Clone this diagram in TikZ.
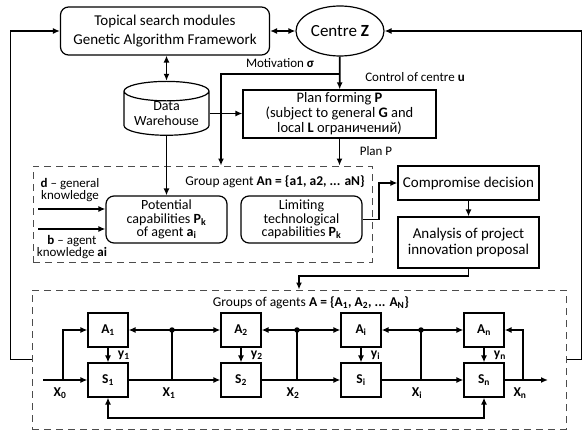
\documentclass[tikz,border=0pt]{standalone}
\usepackage{fontspec}
\setmainfont{Carlito}
\usetikzlibrary{arrows.meta,shapes.geometric}

\newcommand{\sub}[1]{\textsubscript{#1}}

\begin{document}
\begin{tikzpicture}[x=1pt,y=-1pt,>={Latex[length=7pt,width=6pt]}]
\tikzstyle{rbox}=[draw, rounded corners=8pt, line width=1.2pt, align=center, inner sep=0pt]
\tikzstyle{sbox}=[draw, line width=1.2pt, align=center, inner sep=0pt]
\tikzstyle{dashbox}=[draw, dash pattern=on 7pt off 5pt, line width=1pt, black!70, inner sep=0pt]
\tikzstyle{cell}=[sbox, minimum width=40pt, minimum height=34pt, font=\fontsize{13.5}{14}\selectfont\bfseries]
\tikzstyle{conn}=[line width=1.8pt]
\tikzstyle{lbl}=[font=\fontsize{13}{12}\selectfont, inner sep=1pt, align=center]
\tikzstyle{xlbl}=[lbl, font=\fontsize{13.5}{14}\selectfont\bfseries]
\tikzstyle{jdot}=[circle, fill, inner sep=0pt, minimum size=5.5pt]

\useasboundingbox (0,0) rectangle (583,433);

% upper part
\draw (165,31) node[rbox, minimum width=209pt, minimum height=48pt, font=\fontsize{15}{19}\selectfont] (search) {Topical search modules\\Genetic Algorithm Framework};
\draw (340,31) node[draw, ellipse, line width=1.2pt, minimum width=88pt, minimum height=50pt, inner sep=0pt, font=\fontsize{17}{18}\selectfont] (centre) {Centre \textbf{Z}};
\draw (166.5,113.5) node[draw, cylinder, shape border rotate=90, aspect=0.3, line width=1.2pt, minimum width=85pt, minimum height=50pt, inner sep=0pt, align=center, font=\fontsize{14}{15}\selectfont] (dw) {Data\\Warehouse};
\draw (339.5,114) node[sbox, minimum width=193pt, minimum height=48pt, font=\fontsize{14.5}{15}\selectfont] (plan) {Plan forming \textbf{P}\\(subject to general \textbf{G} and\\local \textbf{L} ограничений)};

\draw (280,63) node[lbl] (motlbl) {Motivation \textbf{σ}};
\draw (415,77) node[lbl] (ctrllbl) {Control of centre \textbf{u}};
\draw (376,151) node[lbl] (planlbl) {Plan P};

% group agent
\draw (202.5,214) node[dashbox, minimum width=339pt, minimum height=96pt] (agent) {};
\draw (275,182) node[lbl, font=\fontsize{13.5}{12}\selectfont] (agentlbl) {Group agent \textbf{An = \{a1, a2, ... aN\}}};
\draw (166.5,219.5) node[rbox, minimum width=121pt, minimum height=47pt, font=\fontsize{14}{13.5}\selectfont] (pot) {Potential\\capabilities \textbf{P\sub{k}}\\of agent \textbf{a\sub{i}}};
\draw (301.5,219.5) node[rbox, minimum width=121pt, minimum height=47pt, font=\fontsize{14}{13.5}\selectfont] (lim) {Limiting\\technological\\capabilities \textbf{P\sub{k}}};
\draw (70,190) node[lbl] (dlbl) {\textbf{d} -- general\\knowledge};
\draw (72,247) node[lbl] (blbl) {\textbf{b} -- agent\\knowledge \textbf{ai}};
\coordinate (din) at (38,209);
\coordinate (bin) at (38,229);

% decision
\draw (468.5,183) node[sbox, minimum width=141pt, minimum height=34pt, font=\fontsize{15}{15}\selectfont] (comp) {Compromise decision};
\draw (468.5,242.5) node[sbox, minimum width=141pt, minimum height=51pt, font=\fontsize{15}{15.5}\selectfont] (anal) {Analysis of project\\innovation proposal};

% groups of agents
\draw (299,359.5) node[dashbox, minimum width=534pt, minimum height=139pt] (groups) {};
\draw (311,303) node[lbl, font=\fontsize{13.5}{12}\selectfont] (groupslbl) {Groups of agents \textbf{A = \{A\sub{1}, A\sub{2}, ... A\sub{N}\}}};

\draw (108,330) node[cell] (A1) {A\sub{1}};
\draw (241,330) node[cell] (A2) {A\sub{2}};
\draw (361,330) node[cell] (Ai) {A\sub{i}};
\draw (484,330) node[cell] (An) {A\sub{n}};
\draw (108,380) node[cell] (S1) {S\sub{1}};
\draw (241,380) node[cell] (S2) {S\sub{2}};
\draw (361,380) node[cell] (Si) {S\sub{i}};
\draw (484,380) node[cell] (Sn) {S\sub{n}};

\coordinate (x0) at (43,380);
\coordinate (b0) at (63,380);
\coordinate (b1) at (172,380);
\coordinate (b2) at (297,380);
\coordinate (b3) at (421,380);
\coordinate (bn) at (523,380);
\coordinate (xout) at (548,380);
\draw (60,393) node[xlbl] (lx0) {X\sub{0}};
\draw (169,393) node[xlbl] (lx1) {X\sub{1}};
\draw (293,393) node[xlbl] (lx2) {X\sub{2}};
\draw (417,393) node[xlbl] (lxi) {X\sub{i}};
\draw (520,393) node[xlbl] (lxn) {X\sub{n}};

% connectors
\draw[conn, <->] (search) -- (centre);
\draw[conn, <->] (dw.north |- search.south) -- (dw.north);
\draw[conn, ->] (dw.east) -- (dw.east -| plan.west);
\draw[conn, ->] (centre) -- (plan);
\coordinate (mot) at (340,74);
\coordinate (motturn) at (221,74);
\draw[conn, ->] (mot) -- (motturn) -- (motturn |- agent.north);
\draw[conn, ->] (plan) -- (plan.south |- agent.north);
\draw[conn, ->] (dw) -- (pot);
\draw[conn, ->] (din) -- (din -| pot.west);
\draw[conn, ->] (bin) -- (bin -| pot.west);
\draw[conn, ->] (lim.east) -- ++(16,0) |- (comp.west);
\draw[conn, ->] (comp) -- (anal);
\draw[conn, ->] (anal.south) -- ++(0,7) -| (groups.north);
\draw[conn, ->] (groups.west) -- ++(-21,0) |- (search.west);
\draw[conn, ->] (groups.east) -- ++(15,0) |- (centre.east);

\draw[conn, ->] (A1) -- node[xlbl, right, xshift=8pt] (y1) {y\sub{1}} (S1);
\draw[conn, ->] (A2) -- node[xlbl, right, xshift=8pt] (y2) {y\sub{2}} (S2);
\draw[conn, ->] (Ai) -- node[xlbl, right, xshift=8pt] (yi) {y\sub{i}} (Si);
\draw[conn, ->] (An) -- node[xlbl, right, xshift=8pt] (yn) {y\sub{n}} (Sn);

\draw[conn, ->] (x0) -- (S1);
\draw[conn, ->] (b0) |- (A1);
\draw[conn, ->] (S1) -- (S2);
\draw[conn, ->] (S2) -- (Si);
\draw[conn, ->] (Si) -- (Sn);
\draw[conn, ->] (Sn) -- (xout);
\draw[conn, <->] (A1) -- (A2);
\draw[conn, <->] (A2) -- (Ai);
\draw[conn, <->] (Ai) -- (An);
\draw[conn] (b1) -- (b1 |- A1) node[jdot] (j1) {};
\draw[conn] (b2) -- (b2 |- A2) node[jdot] (j2) {};
\draw[conn] (b3) -- (b3 |- Ai) node[jdot] (j3) {};
\draw[conn, ->] (bn) |- (An);
\draw[conn, <->] (S1.south) -- ++(0,20) -| (Sn.south);
\end{tikzpicture}
\end{document}
